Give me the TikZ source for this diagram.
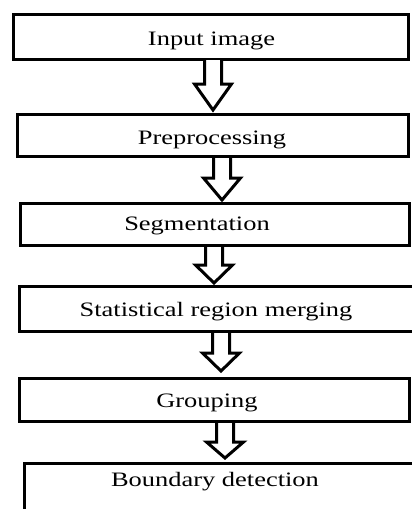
\documentclass[tikz,border=0pt]{standalone}
\usepackage{fontspec}
\newfontfamily\diagfont[FakeStretch=1.29]{Liberation Serif}
\begin{document}
\begin{tikzpicture}[x=1pt,y=-1pt,
  box/.style={draw=black,line width=3pt},
  lbl/.style={font=\diagfont\fontsize{20.5}{24}\selectfont,anchor=base,inner sep=0pt},
  blockarrow/.style={draw=black,fill=white,line width=3pt,line join=miter}]
\useasboundingbox (0,0) rectangle (412,509);
% boxes
\draw[box] (13.5,14) rectangle (408.5,59) coordinate (b1);
\draw[box] (17.5,114.5) rectangle (408.5,156.5) coordinate (b2);
\draw[box] (20.5,203.5) rectangle (409.5,245.5) coordinate (b3);
\draw[box] (19.5,286.5) rectangle (425,331.5) coordinate (b4);
\draw[box] (19.5,378.5) rectangle (409.5,421.5) coordinate (b5);
\draw[box] (24.5,463.5) rectangle (425,530) coordinate (b6);
% labels
\node[lbl] (t1) at (211.5,45) {Input image};
\node[lbl] (t2) at (212,144) {Preprocessing};
\node[lbl] (t3) at (197,230) {Segmentation};
\node[lbl] (t4) at (216,316) {Statistical region merging};
\node[lbl] (t5) at (207,407) {Grouping};
\node[lbl] (t6) at (215,486) {Boundary detection};
% block arrows: center x, top y, head start y, tip y
\foreach \cx/\ty/\hy/\py [count=\i] in {213/60/84/110, 222/158/178/200, 214/247/265/283, 221/333/353/371, 225/423/442/458}{
  \draw[blockarrow] (\cx-8.5,\ty) -- (\cx-8.5,\hy) -- (\cx-18.5,\hy) -- (\cx,\py)
     -- (\cx+18.5,\hy) -- (\cx+8.5,\hy) -- (\cx+8.5,\ty);
}
\end{tikzpicture}
\end{document}
